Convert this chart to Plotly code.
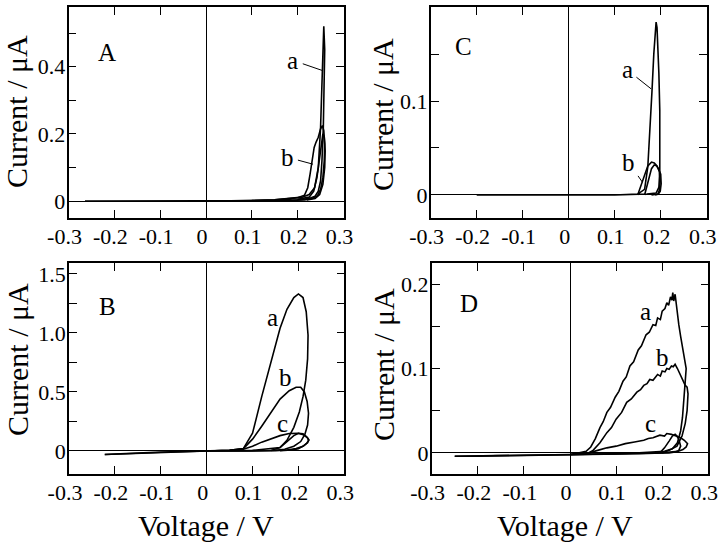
import plotly.graph_objects as go

# ---------------- data (V vs µA) ----------------
# Panel A
A_a_V = [-0.264, -0.2, -0.1, 0.0, 0.1, 0.15, 0.19, 0.21, 0.225, 0.237, 0.245, 0.25, 0.253, 0.256, 0.257,
         0.259, 0.258, 0.256, 0.253, 0.25, 0.245, 0.238, 0.225, 0.2, 0.1, 0.0, -0.1, -0.264]
A_a_I = [0.0, 0.0, 0.0, 0.0, 0.002, 0.004, 0.008, 0.012, 0.02, 0.04, 0.1, 0.22, 0.35, 0.47, 0.52,
         0.45, 0.33, 0.22, 0.12, 0.06, 0.03, 0.015, 0.008, 0.004, 0.001, 0.0, 0.0, 0.0]
A_b_V = [-0.264, 0.0, 0.15, 0.2, 0.215, 0.222, 0.227, 0.232, 0.236, 0.24, 0.245, 0.25, 0.254,
         0.257, 0.259, 0.258, 0.255, 0.25, 0.243, 0.232, 0.215, 0.18, 0.0, -0.264]
A_b_I = [0.0, 0.0, 0.004, 0.01, 0.018, 0.04, 0.08, 0.13, 0.16, 0.175, 0.19, 0.215, 0.225,
         0.21, 0.17, 0.12, 0.07, 0.035, 0.016, 0.008, 0.004, 0.002, 0.0, 0.0]
A_c_V = [0.2, 0.225, 0.235, 0.242, 0.247, 0.251, 0.255, 0.258, 0.26, 0.259, 0.255, 0.248, 0.238, 0.22]
A_c_I = [0.006, 0.012, 0.03, 0.07, 0.12, 0.17, 0.2, 0.19, 0.15, 0.1, 0.05, 0.02, 0.008, 0.004]

# Panel B
B_a_V = [-0.222, -0.2, -0.1, 0.0, 0.05, 0.08, 0.1, 0.12, 0.14, 0.16, 0.175, 0.19, 0.2, 0.21,
         0.217, 0.221, 0.22, 0.216, 0.21, 0.202, 0.19, 0.175, 0.16, 0.1, 0.0, -0.1, -0.222]
B_a_I = [-0.03, -0.025, -0.01, 0.0, 0.006, 0.02, 0.15, 0.46, 0.76, 1.04, 1.2, 1.3, 1.33, 1.3,
         1.18, 0.98, 0.78, 0.6, 0.46, 0.33, 0.2, 0.09, 0.03, 0.005, 0.0, -0.01, -0.03]
B_b_V = [-0.222, 0.0, 0.05, 0.08, 0.1, 0.12, 0.14, 0.16, 0.18, 0.195, 0.205, 0.213, 0.219,
         0.222, 0.22, 0.214, 0.205, 0.19, 0.17, 0.15, 0.1, 0.0, -0.222]
B_b_I = [-0.03, 0.0, 0.006, 0.02, 0.1, 0.21, 0.33, 0.44, 0.51, 0.54, 0.54, 0.5, 0.42,
         0.32, 0.22, 0.14, 0.08, 0.04, 0.015, 0.006, 0.002, 0.0, -0.03]
B_c_V = [0.0, 0.05, 0.08, 0.1, 0.12, 0.14, 0.16, 0.18, 0.2, 0.212, 0.22, 0.222, 0.218,
         0.21, 0.195, 0.175, 0.15, 0.1, 0.0]
B_c_I = [0.0, 0.005, 0.015, 0.04, 0.075, 0.105, 0.13, 0.148, 0.15, 0.135, 0.11, 0.09, 0.065,
         0.04, 0.02, 0.008, 0.003, 0.001, 0.0]
B_d_V = [0.14, 0.16, 0.175, 0.19, 0.2, 0.21, 0.218, 0.223, 0.22, 0.212, 0.2, 0.185, 0.16]
B_d_I = [0.004, 0.03, 0.08, 0.13, 0.15, 0.145, 0.12, 0.095, 0.07, 0.045, 0.02, 0.008, 0.003]

# Panel C
C_a_V = [-0.2, -0.1, 0.0, 0.1, 0.15, 0.165, 0.172, 0.177, 0.181, 0.185, 0.188, 0.19, 0.192,
         0.194, 0.196, 0.198, 0.199, 0.198, 0.196, 0.19, 0.17, 0.1, 0.0, -0.2]
C_a_I = [0.0, 0.0, 0.0, 0.0, 0.001, 0.006, 0.03, 0.07, 0.11, 0.15, 0.172, 0.184, 0.178,
         0.16, 0.13, 0.09, 0.05, 0.025, 0.008, 0.002, 0.001, 0.0, 0.0, 0.0]
C_b_V = [0.15, 0.157, 0.164, 0.172, 0.18, 0.186, 0.192, 0.197, 0.199, 0.197, 0.194, 0.18]
C_b_I = [0.0, 0.01, 0.022, 0.031, 0.035, 0.034, 0.031, 0.025, 0.015, 0.005, 0.001, 0.0]
C_c_V = [0.165, 0.17, 0.175, 0.18, 0.186, 0.191, 0.195, 0.2, 0.201, 0.199, 0.195, 0.188]
C_c_I = [0.0, 0.01, 0.02, 0.028, 0.032, 0.031, 0.028, 0.022, 0.012, 0.004, 0.001, 0.0]

# Panel D
D_a_V = [-0.25, -0.2, -0.1, 0.0, 0.02, 0.035, 0.045, 0.055, 0.065, 0.072, 0.08, 0.088, 0.098, 0.106,
         0.115, 0.122, 0.13, 0.138, 0.148, 0.155, 0.165, 0.172, 0.18, 0.186, 0.19, 0.196, 0.2, 0.206,
         0.21, 0.214, 0.218, 0.221, 0.223, 0.225, 0.228, 0.232, 0.236, 0.24, 0.244, 0.248, 0.252,
         0.25, 0.247, 0.244, 0.24, 0.233, 0.222, 0.205, 0.15, 0.1, 0.0, -0.1, -0.25]
D_a_I = [-0.004, -0.004, -0.003, -0.002, 0.0, 0.002, 0.007, 0.017, 0.03, 0.037, 0.048, 0.054, 0.066, 0.073,
         0.085, 0.09, 0.103, 0.108, 0.122, 0.127, 0.14, 0.143, 0.152, 0.151, 0.16, 0.158, 0.168, 0.171,
         0.178, 0.175, 0.185, 0.181, 0.19, 0.18, 0.188, 0.168, 0.152, 0.138, 0.124, 0.112, 0.1,
         0.085, 0.062, 0.042, 0.026, 0.012, 0.005, 0.002, 0.0, -0.001, -0.002, -0.003, -0.004]
D_b_V = [-0.25, 0.0, 0.04, 0.05, 0.065, 0.08, 0.09, 0.1, 0.112, 0.123, 0.133, 0.145, 0.153, 0.16,
         0.167, 0.173, 0.18, 0.19, 0.196, 0.2, 0.206, 0.21, 0.215, 0.22, 0.224, 0.228, 0.233,
         0.238, 0.242, 0.246, 0.25, 0.254, 0.256, 0.254, 0.25, 0.243, 0.232, 0.215, 0.2, 0.1, 0.0, -0.25]
D_b_I = [-0.004, -0.002, 0.0, 0.003, 0.012, 0.024, 0.03, 0.04, 0.048, 0.06, 0.064, 0.072, 0.075, 0.08,
         0.082, 0.087, 0.086, 0.093, 0.091, 0.097, 0.096, 0.1, 0.099, 0.103, 0.102, 0.105, 0.1,
         0.094, 0.088, 0.084, 0.08, 0.078, 0.07, 0.05, 0.035, 0.02, 0.008, 0.003, 0.0, -0.001, -0.002, -0.004]
D_c_V = [0.0, 0.04, 0.06, 0.08, 0.1, 0.12, 0.14, 0.16, 0.17, 0.18, 0.195, 0.205, 0.21, 0.22,
         0.23, 0.24, 0.248, 0.255, 0.252, 0.245, 0.235, 0.222, 0.2, 0.15, 0.0]
D_c_I = [-0.002, 0.0, 0.003, 0.006, 0.008, 0.011, 0.013, 0.015, 0.017, 0.018, 0.021, 0.02, 0.023, 0.022,
         0.02, 0.018, 0.015, 0.011, 0.007, 0.004, 0.002, 0.001, 0.0, -0.001, -0.002]
D_d_V = [0.195, 0.205, 0.215, 0.222, 0.228, 0.232, 0.236, 0.24, 0.236, 0.228, 0.215, 0.2]
D_d_I = [0.0, 0.006, 0.014, 0.02, 0.022, 0.02, 0.016, 0.008, 0.003, 0.001, 0.0, 0.0]

X_TICKS = [-0.3, -0.2, -0.1, 0.0, 0.1, 0.2, 0.3]
X_TEXT = ["-0.3", "-0.2", "-0.1", "0", "0.1", "0.2", "0.3"]
A_YTICKS = [0, 0.1, 0.2, 0.3, 0.4, 0.5]
A_YTEXT = ["0", "", "0.2", "", "0.4", ""]
B_YTICKS = [0, 0.25, 0.5, 0.75, 1.0, 1.25, 1.5]
B_YTEXT = ["0", "", "0.5", "", "1.0", "", "1.5"]
C_YTICKS = [0, 0.05, 0.1, 0.15, 0.2]
C_YTEXT = ["0", "", "0.1", "", "0.2"]
D_YTICKS = [0, 0.05, 0.1, 0.15, 0.2]
D_YTEXT = ["0", "", "0.1", "", "0.2"]

FONT = "Liberation Serif"
W, H = 720, 548

fig = go.Figure()

panels = {
    "A": ("x", "y", [(A_a_V, A_a_I), (A_b_V, A_b_I), (A_c_V, A_c_I)]),
    "C": ("x2", "y2", [(C_a_V, C_a_I), (C_b_V, C_b_I), (C_c_V, C_c_I)]),
    "B": ("x3", "y3", [(B_a_V, B_a_I), (B_b_V, B_b_I), (B_c_V, B_c_I), (B_d_V, B_d_I)]),
    "D": ("x4", "y4", [(D_a_V, D_a_I), (D_b_V, D_b_I), (D_c_V, D_c_I), (D_d_V, D_d_I)]),
}
for name, (xa, ya, curves) in panels.items():
    for v, i in curves:
        fig.add_trace(go.Scatter(x=v, y=i, mode="lines", xaxis=xa, yaxis=ya,
                                 line=dict(color="black", width=1.6), showlegend=False,
                                 hoverinfo="skip"))

def px_dom(a, b):
    return [a / W, b / W]

def py_dom(top, bottom):
    return [1 - bottom / H, 1 - top / H]

tick_font = dict(family=FONT, size=22, color="black")
common_x = dict(range=[-0.3, 0.3], tickvals=X_TICKS, ticktext=X_TEXT, ticks="inside", ticklen=8,
                tickwidth=1.4, tickcolor="black", showline=True, linecolor="black", linewidth=1.6,
                mirror="ticks", zeroline=True, zerolinecolor="black", zerolinewidth=1.3,
                showgrid=False, tickfont=tick_font, automargin=False, ticklabelstandoff=-2,
                ticklabelshift=-4, ticklabeloverflow="allow")
common_y = dict(ticks="inside", ticklen=8, tickwidth=1.4, tickcolor="black", showline=True,
                linecolor="black", linewidth=1.6, mirror="ticks", zeroline=True,
                zerolinecolor="black", zerolinewidth=1.3, showgrid=False,
                tickfont=tick_font, automargin=False, ticklabelstandoff=-3,
                ticklabeloverflow="allow")

fig.update_layout(
    width=W, height=H, margin=dict(l=0, r=0, t=0, b=0, autoexpand=False),
    paper_bgcolor="white", plot_bgcolor="white",
    font=dict(family=FONT, color="black"),
    xaxis=dict(common_x, domain=px_dom(68.5, 343.5), anchor="y"),
    yaxis=dict(common_y, domain=py_dom(7.3, 218), anchor="x", range=[-0.05, 0.5765],
               tickvals=A_YTICKS, ticktext=A_YTEXT),
    xaxis2=dict(common_x, domain=px_dom(430.7, 706.7), anchor="y2"),
    yaxis2=dict(common_y, domain=py_dom(7.3, 218), anchor="x2", range=[-0.0245, 0.1997],
                tickvals=C_YTICKS, ticktext=C_YTEXT),
    xaxis3=dict(common_x, domain=px_dom(69, 344.3), anchor="y3"),
    yaxis3=dict(common_y, domain=py_dom(263.3, 474), anchor="x3", range=[-0.195, 1.59],
                tickvals=B_YTICKS, ticktext=B_YTEXT),
    xaxis4=dict(common_x, domain=px_dom(431.7, 708.3), anchor="y4"),
    yaxis4=dict(common_y, domain=py_dom(263.3, 474), anchor="x4", range=[-0.025, 0.2247],
                tickvals=D_YTICKS, ticktext=D_YTEXT),
)

ann = []
lab_font = dict(family=FONT, size=25, color="black")
for txt, xr, yr, xv, yv in [("A", "x", "y", -0.216, 0.443), ("C", "x2", "y2", -0.228, 0.1585),
                            ("B", "x3", "y3", -0.217, 1.22), ("D", "x4", "y4", -0.219, 0.1776)]:
    ann.append(dict(text=txt, x=xv, y=yv, xref=xr, yref=yr, showarrow=False, font=lab_font))
for txt, xr, yr, xv, yv, ax, ay in [("a", "x", "y", 0.253, 0.389, -29, -10),
                                    ("b", "x", "y", 0.2335, 0.11, -26, -7),
                                    ("a", "x2", "y2", 0.179, 0.113, -24, -19),
                                    ("b", "x2", "y2", 0.16, 0.0138, -14, -20)]:
    ann.append(dict(text=txt, x=xv, y=yv, xref=xr, yref=yr, showarrow=True, arrowhead=0,
                    arrowwidth=1, arrowcolor="black", ax=ax, ay=ay, startstandoff=3,
                    font=lab_font))
for txt, xr, yr, xv, yv in [("a", "x3", "y3", 0.143, 1.127), ("b", "x3", "y3", 0.171, 0.619),
                            ("c", "x3", "y3", 0.165, 0.237), ("a", "x4", "y4", 0.163, 0.167),
                            ("b", "x4", "y4", 0.2, 0.1135), ("c", "x4", "y4", 0.174, 0.035)]:
    ann.append(dict(text=txt, x=xv, y=yv, xref=xr, yref=yr, showarrow=False, font=lab_font))
title_font = dict(family=FONT, size=30, color="black")
for xp, yp in [(17, 112), (382, 115), (17, 360), (383, 365)]:
    ann.append(dict(text="Current / μA", x=xp / W, y=1 - yp / H, xref="paper", yref="paper",
                    textangle=-90, showarrow=False, font=title_font, xanchor="center",
                    yanchor="middle"))
for xp in [206, 565]:
    ann.append(dict(text="Voltage / V", x=xp / W, y=1 - 525 / H, xref="paper", yref="paper",
                    showarrow=False, font=title_font, xanchor="center", yanchor="middle"))
fig.update_layout(annotations=ann)

fig.write_html("out.html", config={"displayModeBar": False},
               post_script="document.body.style.margin='0';")
